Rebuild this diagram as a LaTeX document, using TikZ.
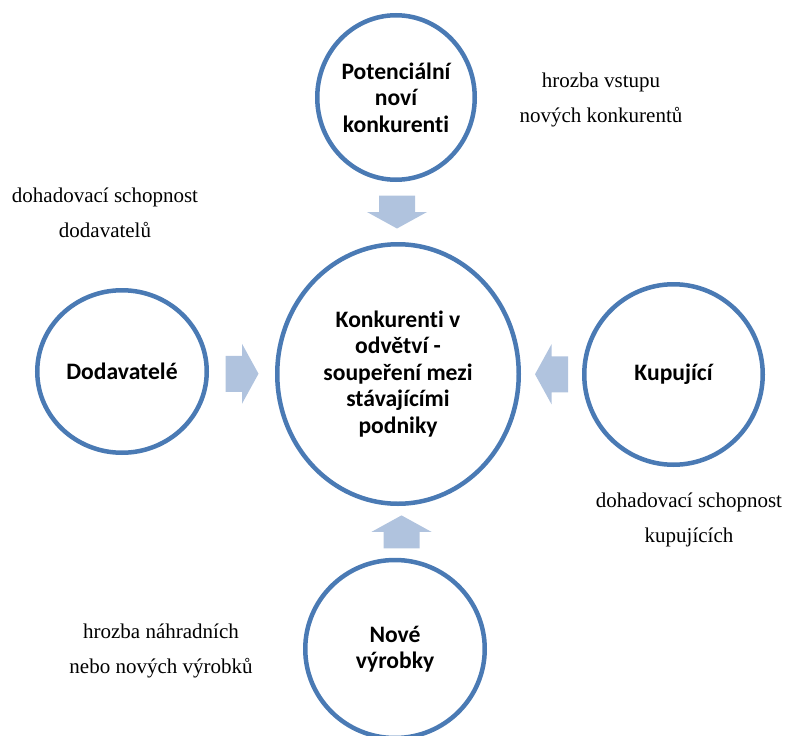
\documentclass[tikz,border=0pt]{standalone}
\usepackage{fontspec}
\setmainfont{Liberation Serif}
\newfontfamily\calfont[Ligatures=NoCommon]{Carlito}
\usetikzlibrary{shapes.geometric,calc}
\definecolor{ringblue}{HTML}{4A7AB4}
\definecolor{arrowblue}{HTML}{B0C3DE}
\begin{document}
\begin{tikzpicture}[x=1pt,y=-1pt,
  ring/.style={ellipse, draw=ringblue, line width=4.5pt, inner sep=0pt, align=center,
    font=\calfont\bfseries\fontsize{23.6}{26.5}\selectfont},
  lbl/.style={align=center, inner sep=0pt, font=\fontsize{21}{35.5}\selectfont},
  barrow/.pic={\fill[arrowblue] (-16.5,-18) -- (0,-18) -- (0,-30) -- (16.5,0) -- (0,30) -- (0,18) -- (-16.5,18) -- cycle;}
]
\useasboundingbox (0,0) rectangle (788,736);
% circles
\node[ring, minimum width=157.5, minimum height=164.5] (pot) at (396,97.5) {Potenciální\\noví\\konkurenti};
\node[ring, minimum width=241.5, minimum height=259.5] (kon) at (398,374) {Konkurenti v\\odvětví -\\soupeření mezi\\stávajícími\\podniky};
\node[ring, minimum width=169.5, minimum height=162.5] (dod) at (122,371.5) {Dodavatelé};
\node[ring, minimum width=178.5, minimum height=180.5] (kup) at (673.5,374.5) {Kupující};
\node[ring, minimum width=179.5, minimum height=178] (nov) at (395,649) {Nové\\výrobky};
% block arrows
\pic[rotate=-90] at ($(pot.south)!0.5!(kon.north)$) {barrow};
\pic[rotate=0] at ($(dod.east)!0.5!(kon.west)+(0,1)$) {barrow};
\pic[rotate=180] at ($(kup.west)!0.5!(kon.east)$) {barrow};
\pic[rotate=90] at ($(nov.north)!0.5!(kon.south)+(5,0)$) {barrow};
% labels
\node[lbl] (l1) at (601,99.75) {hrozba vstupu\\nových konkurentů};
\node[lbl] (l2) at (105,212.75) {dohadovací schopnost\\dodavatelů};
\node[lbl] (l3) at (689,519.75) {dohadovací schopnost\\kupujících};
\node[lbl] (l4) at (161,650.75) {hrozba náhradních\\nebo nových výrobků};
\end{tikzpicture}
\end{document}
